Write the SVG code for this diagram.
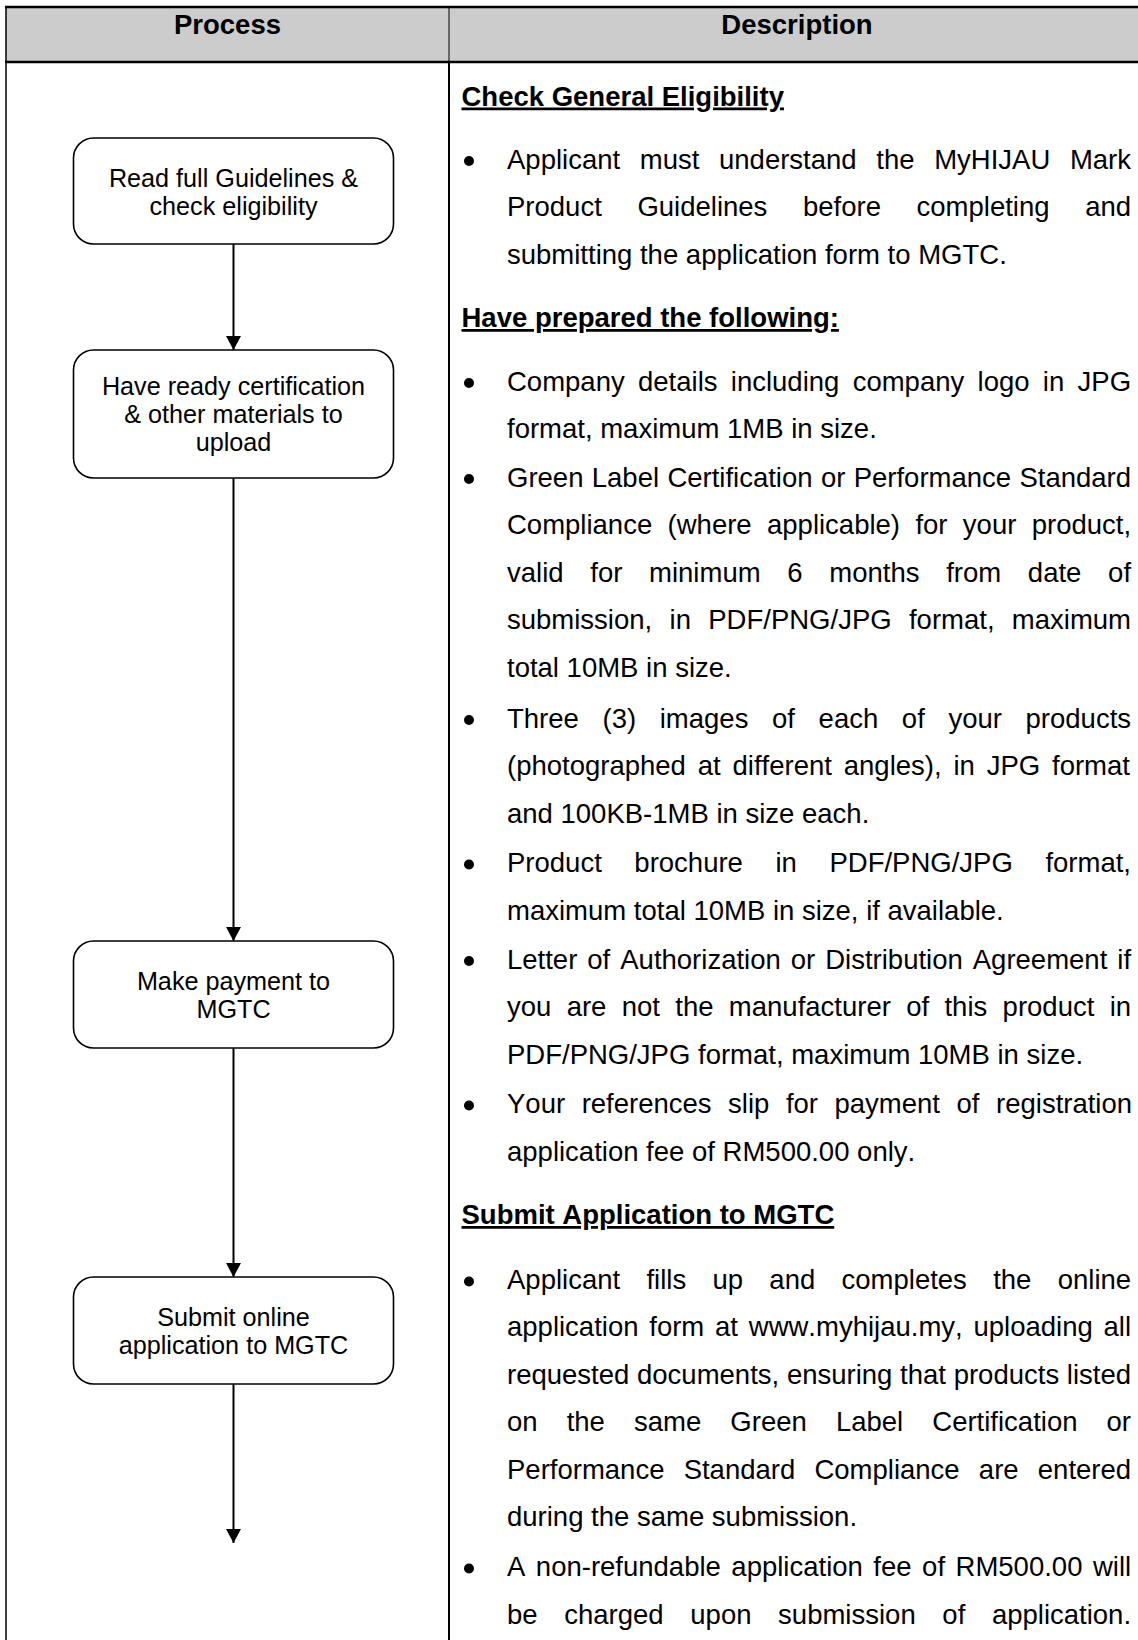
<svg xmlns="http://www.w3.org/2000/svg" width="1138" height="1640" viewBox="0 0 1138 1640">
  <defs>
    <style>
      text { font-family: "Liberation Sans", Arial, sans-serif; font-kerning: none; fill: #000; }
      .hdr { font-size: 27.5px; font-weight: bold; text-anchor: middle; }
      .sec { font-size: 27.5px; font-weight: bold; text-decoration: underline; }
      .t { font-size: 27.5px; }
      .box { fill: #fff; stroke: #000; stroke-width: 1.6; }
      .lbl { font-size: 25.2px; text-anchor: middle; }
      .conn { stroke: #000; stroke-width: 2; fill: none; marker-end: url(#arrow); }
      .rule { stroke: #000; fill: none; }
      .bul { fill: #000; }
    </style>
    <marker id="arrow" markerUnits="userSpaceOnUse" markerWidth="15" markerHeight="15" refX="14" refY="7.5" orient="auto">
      <path d="M0,0 L14,7.5 L0,15 Z" fill="#000"/>
    </marker>
  </defs>

  <rect x="0" y="0" width="1138" height="1640" fill="#fff"/>

  <g id="table">
    <rect x="6" y="7" width="1132" height="55" fill="#cccccc"/>
    <line class="rule" x1="5" y1="7" x2="1138" y2="7" stroke-width="2.5"/>
    <line class="rule" x1="5" y1="62" x2="1138" y2="62" stroke-width="2.5"/>
    <line class="rule" x1="6" y1="6" x2="6" y2="1640" stroke-width="1.5"/>
    <line class="rule" x1="449" y1="7" x2="449" y2="62" stroke-width="1" stroke="#333"/>
    <line class="rule" x1="449" y1="62" x2="449" y2="1640" stroke-width="2"/>
    <text class="hdr" x="227.5" y="34">Process</text>
    <text class="hdr" x="797" y="34">Description</text>
  </g>

  <g id="connectors">
    <line class="conn" x1="233.5" y1="244" x2="233.5" y2="350"/>
    <line class="conn" x1="233.5" y1="478" x2="233.5" y2="941"/>
    <line class="conn" x1="233.5" y1="1048" x2="233.5" y2="1277"/>
    <line class="conn" x1="233.5" y1="1384" x2="233.5" y2="1543"/>
  </g>

  <g id="node-read-guidelines">
    <rect class="box" x="73.5" y="138" width="320" height="106" rx="20" ry="20"/>
    <text class="lbl" x="233.5" y="186.5">Read full Guidelines &amp;</text>
    <text class="lbl" x="233.5" y="214.5">check eligibility</text>
  </g>

  <g id="node-have-ready">
    <rect class="box" x="73.5" y="350" width="320" height="128" rx="20" ry="20"/>
    <text class="lbl" x="233.5" y="395">Have ready certification</text>
    <text class="lbl" x="233.5" y="423">&amp; other materials to</text>
    <text class="lbl" x="233.5" y="451">upload</text>
  </g>

  <g id="node-payment">
    <rect class="box" x="73.5" y="941" width="320" height="107" rx="20" ry="20"/>
    <text class="lbl" x="233.5" y="990">Make payment to</text>
    <text class="lbl" x="233.5" y="1018">MGTC</text>
  </g>

  <g id="node-submit">
    <rect class="box" x="73.5" y="1277" width="320" height="107" rx="20" ry="20"/>
    <text class="lbl" x="233.5" y="1326">Submit online</text>
    <text class="lbl" x="233.5" y="1354">application to MGTC</text>
  </g>

  <g id="description">
    <text class="sec" x="461.5" y="105.5">Check General Eligibility</text>
    <circle class="bul" cx="469" cy="161" r="5"/>
    <text class="t" x="507" y="168.5" style="word-spacing:12.01px">Applicant must understand the MyHIJAU Mark</text>
    <text class="t" x="507" y="216" style="word-spacing:27.99px">Product Guidelines before completing and</text>
    <text class="t" x="507" y="263.5">submitting the application form to MGTC.</text>

    <text class="sec" x="461.5" y="327">Have prepared the following:</text>
    <circle class="bul" cx="469" cy="383" r="5"/>
    <text class="t" x="507" y="390.5" style="word-spacing:5.67px">Company details including company logo in JPG</text>
    <text class="t" x="507" y="438">format, maximum 1MB in size.</text>

    <circle class="bul" cx="469" cy="479" r="5"/>
    <text class="t" x="507" y="486.5" style="word-spacing:0.69px">Green Label Certification or Performance Standard</text>
    <text class="t" x="507" y="534" style="word-spacing:7.73px">Compliance (where applicable) for your product,</text>
    <text class="t" x="507" y="581.5" style="word-spacing:19.06px">valid for minimum 6 months from date of</text>
    <text class="t" x="507" y="629" style="word-spacing:9.69px">submission, in PDF/PNG/JPG format, maximum</text>
    <text class="t" x="507" y="677">total 10MB in size.</text>

    <circle class="bul" cx="469" cy="720" r="5"/>
    <text class="t" x="507" y="727.5" style="word-spacing:16px">Three (3) images of each of your products</text>
    <text class="t" x="507" y="775" style="word-spacing:4.21px">(photographed at different angles), in JPG format</text>
    <text class="t" x="507" y="822.5">and 100KB-1MB in size each.</text>

    <circle class="bul" cx="469" cy="864.5" r="5"/>
    <text class="t" x="507" y="872" style="word-spacing:24.95px">Product brochure in PDF/PNG/JPG format,</text>
    <text class="t" x="507" y="919.5">maximum total 10MB in size, if available.</text>

    <circle class="bul" cx="469" cy="961" r="5"/>
    <text class="t" x="507" y="968.5" style="word-spacing:2.36px">Letter of Authorization or Distribution Agreement if</text>
    <text class="t" x="507" y="1016" style="word-spacing:7.69px">you are not the manufacturer of this product in</text>
    <text class="t" x="507" y="1063.5">PDF/PNG/JPG format, maximum 10MB in size.</text>

    <circle class="bul" cx="469" cy="1105.5" r="5"/>
    <text class="t" x="507" y="1113" style="word-spacing:8.9px">Your references slip for payment of registration</text>
    <text class="t" x="507" y="1161">application fee of RM500.00 only.</text>

    <text class="sec" x="461.5" y="1224">Submit Application to MGTC</text>
    <circle class="bul" cx="469" cy="1281.5" r="5"/>
    <text class="t" x="507" y="1289" style="word-spacing:18.66px">Applicant fills up and completes the online</text>
    <text class="t" x="507" y="1336" style="word-spacing:3.15px">application form at www.myhijau.my, uploading all</text>
    <text class="t" x="507" y="1383.5" style="word-spacing:0.07px">requested documents, ensuring that products listed</text>
    <text class="t" x="507" y="1431" style="word-spacing:21.46px">on the same Green Label Certification or</text>
    <text class="t" x="507" y="1478.5" style="word-spacing:11.56px">Performance Standard Compliance are entered</text>
    <text class="t" x="507" y="1526">during the same submission.</text>

    <circle class="bul" cx="469" cy="1568.5" r="5"/>
    <text class="t" x="507" y="1576" style="word-spacing:2.87px">A non-refundable application fee of RM500.00 will</text>
    <text class="t" x="507" y="1623.5" style="word-spacing:19.02px">be charged upon submission of application.</text>
  </g>
</svg>
